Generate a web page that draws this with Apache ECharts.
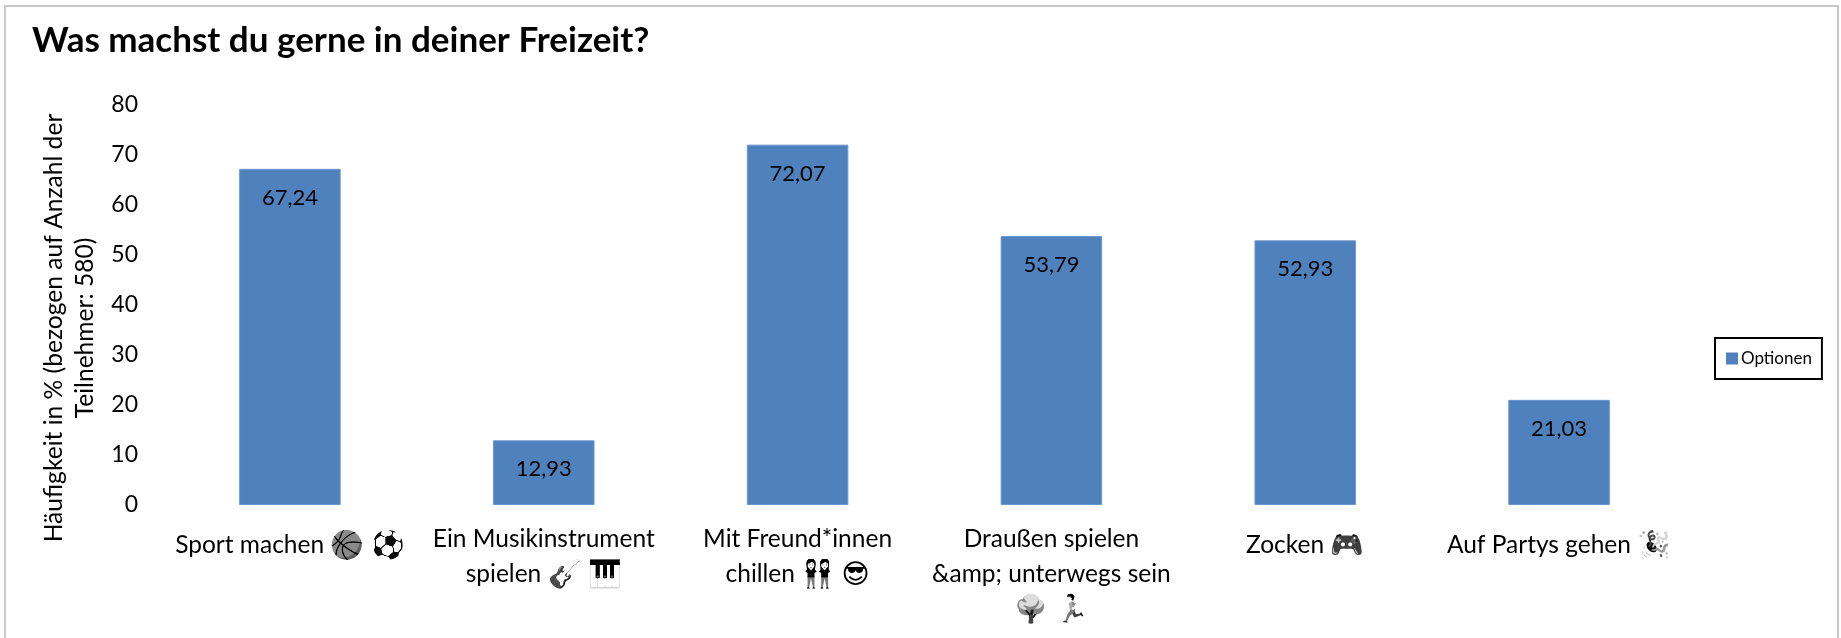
<!DOCTYPE html>
<html><head><meta charset="utf-8">
<style>html,body{margin:0;padding:0;background:#fff}#c{width:1841px;height:638px}
canvas[data-zr-dom-id="zr_1"]{filter:grayscale(1) contrast(2.2)}</style>
<script src="https://cdn.jsdelivr.net/npm/echarts@6/dist/echarts.min.js"></script>
</head><body><div id="c"></div>
<script>
const categories = [
  "Sport machen 🏀 ⚽",
  "Ein Musikinstrument\nspielen 🎸 🎹",
  "Mit Freund*innen\nchillen 👭 😎",
  "Draußen spielen\n&amp; unterwegs sein\n🌳 🏃",
  "Zocken 🎮",
  "Auf Partys gehen 🎉"
];
const values = [67.24, 12.93, 72.07, 53.79, 52.93, 21.03];
const seriesName = "Optionen";
const titleText = "Was machst du gerne in deiner Freizeit?";
const yAxisTitle = "Häufigkeit in % (bezogen auf Anzahl der\nTeilnehmer: 580)";
const FONT = 'Lato, "DejaVu Sans", "Noto Sans", sans-serif';
function richLabel(v){
  const single = !v.includes('\n');
  return v.split('\n').map(line =>
    line.split(/(\p{Extended_Pictographic})/u).filter(s=>s!=='').map(s =>
      /\p{Extended_Pictographic}/u.test(s)
        ? '{'+(single?'e1':'e')+'|'+s+'}'
        : '{'+(single?'t1':'t')+'|'+s+'}'
    ).join('')
  ).join('\n');
}
const chart = echarts.init(document.getElementById('c'), null, {renderer:'canvas'});
chart.setOption({
  animation:false,
  backgroundColor:'#fff',
  graphic:[{type:'rect',silent:true,z:-1,shape:{x:5,y:6,width:1833,height:700},style:{fill:'#fff',stroke:'#c9c9c9',lineWidth:2}}],
  title:{text:titleText,left:27,top:18,textStyle:{fontFamily:FONT,fontSize:35,fontWeight:'bold',color:'#000'}},
  legend:{show:true,left:1715,top:338,orient:'horizontal',backgroundColor:'#fff',borderColor:'#000',borderWidth:2,borderRadius:0,
    padding:[12,10,12,11],itemWidth:12,itemHeight:12,itemGap:0,icon:'rect',itemStyle:{borderWidth:0},
    textStyle:{fontFamily:FONT,fontSize:17,color:'#000',padding:[0,0,0,-2]}},
  grid:{left:163,right:155,top:105,bottom:133,containLabel:false},
  xAxis:{type:'category',data:categories,zlevel:1,axisLine:{show:false},axisTick:{show:false},
    axisLabel:{interval:0,margin:17,color:'#000',fontFamily:FONT,fontSize:24.5,lineHeight:35,
      formatter:richLabel,
      rich:{
        t:{fontFamily:FONT,fontSize:24.5,lineHeight:35,color:'#000'},
        e:{fontFamily:FONT,fontSize:27,lineHeight:35,color:'#000'},
        t1:{fontFamily:FONT,fontSize:24.5,lineHeight:46,color:'#000'},
        e1:{fontFamily:FONT,fontSize:27,lineHeight:46,color:'#000'}
      }}},
  yAxis:{type:'value',min:0,max:80,interval:10,splitLine:{show:false},axisLine:{show:false},axisTick:{show:false},
    axisLabel:{color:'#000',fontFamily:FONT,fontSize:23,margin:25,padding:[2,0,0,0]},
    name:yAxisTitle,nameLocation:'middle',nameGap:60,nameRotate:90,
    nameTextStyle:{color:'#000',fontFamily:FONT,fontSize:24.6,lineHeight:31,padding:[0,46,0,0]}},
  series:[{name:seriesName,type:'bar',data:values,barWidth:'40%',
    itemStyle:{color:'#4F81BD',borderColor:'#6a97d2',borderWidth:1},
    label:{show:true,position:'insideTop',distance:18,color:'#000',fontFamily:FONT,fontSize:22,
      formatter:p=>p.value.toFixed(2).replace('.',',')}}]
});
</script></body></html>
